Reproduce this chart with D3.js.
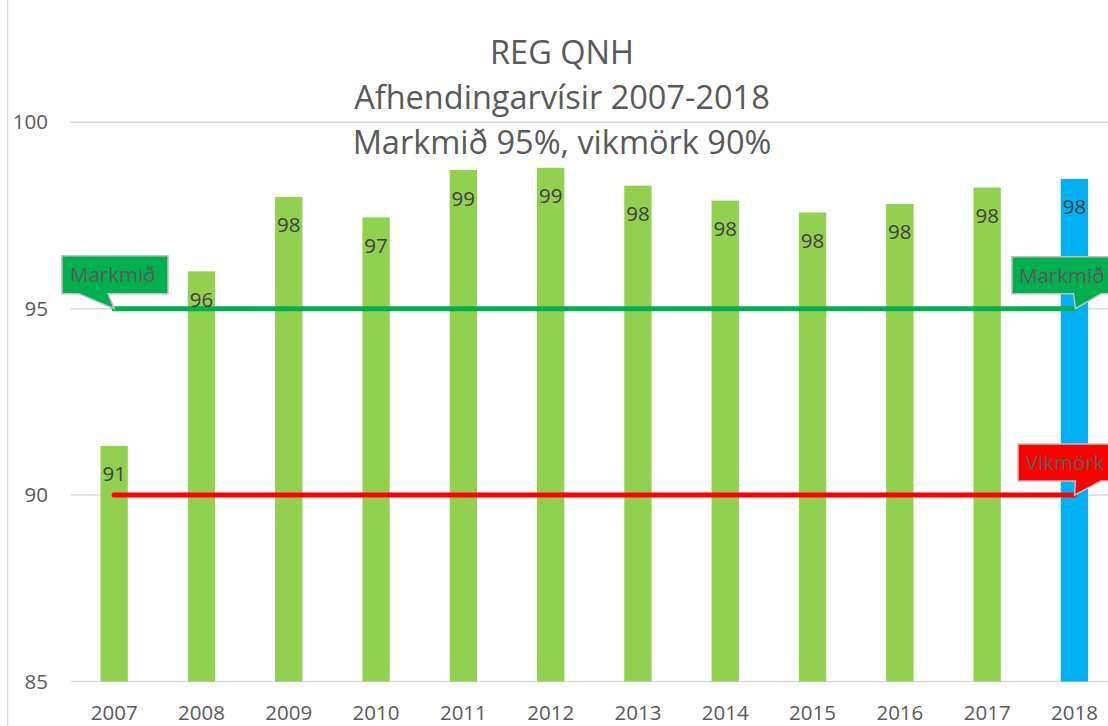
<!DOCTYPE html>
<html><head><meta charset="utf-8">
<script src="https://cdn.jsdelivr.net/npm/d3@7"></script>
<style>html,body{margin:0;padding:0;background:#fff;overflow:hidden}</style>
</head><body>
<svg id="c" width="1108" height="726"></svg>
<script>
const years = ['2007','2008','2009','2010','2011','2012','2013','2014','2015','2016','2017','2018'];
const values = [91.32, 96.0, 98.0, 97.45, 98.72, 98.78, 98.30, 97.90, 97.58, 97.81, 98.25, 98.48];
const barColors = ['#92d050','#92d050','#92d050','#92d050','#92d050','#92d050','#92d050','#92d050','#92d050','#92d050','#92d050','#00b0f0'];
const yTicks = [85, 90, 95, 100];
const targetValue = 95;   // Markmið
const limitValue = 90;    // Vikmörk
const titleLines = ['REG QNH', 'Afhendingarvísir 2007-2018', 'Markmið 95%, vikmörk 90%'];

const W = 1108, H = 726;
const FONT = "'Open Sans', 'DejaVu Sans', sans-serif";
const LFS = 20.5;
const svg = d3.select('#c');

const left = 70.5, step = 87.3;
const x = d3.scaleBand().domain(years).range([left, left + step * years.length])
  .paddingInner(0.687).paddingOuter(0.687 / 2);
const y = d3.scaleLinear().domain([85, 100]).range([681.5, 122.3]);
const cx = d => x(d) + x.bandwidth() / 2;

// chart frame
svg.append('rect').attr('x', 7.5).attr('y', -2).attr('width', W + 10).attr('height', H + 10)
  .attr('fill', 'none').attr('stroke', '#d9d9d9').attr('stroke-width', 1.5);

// gridlines
svg.append('g').selectAll('line').data(yTicks).join('line')
  .attr('x1', left).attr('x2', W).attr('y1', d => y(d)).attr('y2', d => y(d))
  .attr('stroke', '#d9d9d9').attr('stroke-width', 1.5);

// y axis labels
const yAxis = d3.axisLeft(y).tickValues(yTicks).tickSize(0).tickPadding(0);
const ya = svg.append('g').attr('transform', 'translate(48,0)').call(yAxis);
ya.select('.domain').remove();
ya.selectAll('text').attr('font-family', FONT).attr('font-size', LFS).attr('fill', '#595959');

// x axis labels
const xAxis = d3.axisBottom(x).tickSize(0).tickPadding(0);
const xa = svg.append('g').attr('transform', `translate(0,${y(85)})`).call(xAxis);
xa.select('.domain').remove();
xa.selectAll('text').attr('font-family', FONT).attr('font-size', LFS).attr('fill', '#595959')
  .attr('dy', null).attr('y', 38.5);

// title
svg.append('g').selectAll('text').data(titleLines).join('text')
  .attr('x', 562).attr('y', (d, i) => 63.5 + i * 45.3)
  .attr('text-anchor', 'middle').attr('font-family', FONT).attr('font-size', 32.5)
  .attr('fill', '#595959').text(d => d);

// bars
svg.append('g').selectAll('rect').data(years).join('rect')
  .attr('x', d => x(d)).attr('width', x.bandwidth())
  .attr('y', (d, i) => y(values[i])).attr('height', (d, i) => y(85) - y(values[i]))
  .attr('fill', (d, i) => barColors[i]);

// target & limit lines
const x0 = cx(years[0]), x1 = cx(years[years.length - 1]);
[[targetValue, '#00b050'], [limitValue, '#ff0000']].forEach(([v, c]) => {
  svg.append('line').attr('x1', x0).attr('x2', x1).attr('y1', y(v)).attr('y2', y(v))
    .attr('stroke', c).attr('stroke-width', 5).attr('stroke-linecap', 'round');
});

// value labels
svg.append('g').selectAll('text').data(years).join('text')
  .attr('x', d => cx(d)).attr('y', (d, i) => y(values[i]) + 35.5)
  .attr('text-anchor', 'middle').attr('font-family', FONT).attr('font-size', LFS)
  .attr('fill', '#404040').text((d, i) => Math.round(values[i]));

// callouts
function callout(tipX, tipY, boxL, boxT, boxR, boxB, baseL, baseR, fill, label, textX) {
  const p = d3.path();
  p.moveTo(boxL, boxT); p.lineTo(boxR, boxT); p.lineTo(boxR, boxB);
  p.lineTo(baseR, boxB); p.lineTo(tipX, tipY); p.lineTo(baseL, boxB);
  p.lineTo(boxL, boxB); p.closePath();
  svg.append('path').attr('d', p.toString()).attr('fill', fill)
    .attr('stroke', '#bfbfbf').attr('stroke-width', 1.5).attr('stroke-linejoin', 'miter');
  svg.append('text').attr('x', textX).attr('y', (boxT + boxB) / 2 + 7.5)
    .attr('font-family', FONT).attr('font-size', LFS).attr('fill', '#595959').text(label);
}
const ty = y(targetValue), ly = y(limitValue);
callout(x0, ty, 62, ty - 53, 168, ty - 15, 79, 108, '#00b050', 'Markmið', 70);
callout(x1 + 1, ty, 1012, ty - 52, 1120, ty - 15, x1 - 1, 1101, '#00b050', 'Markmið', 1019);
callout(x1, ly, 1018, ly - 51, 1120, ly - 14, x1 + 1, 1101, '#ff0000', 'Vikmörk', 1026);
</script>
</body></html>
